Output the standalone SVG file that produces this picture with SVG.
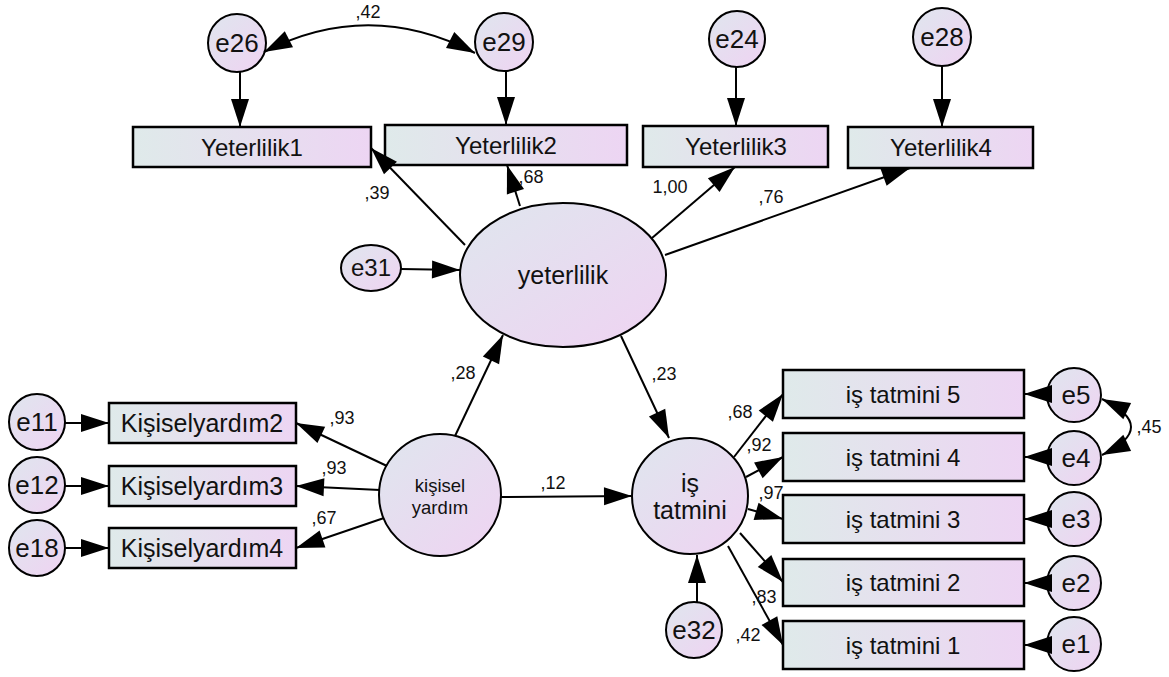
<svg xmlns="http://www.w3.org/2000/svg" width="1169" height="677" viewBox="0 0 1169 677">
<defs>
<linearGradient id="gr" x1="0" y1="0" x2="1" y2="0"><stop offset="0" stop-color="#dfeaea"/><stop offset="1" stop-color="#edd5f3"/></linearGradient>
<linearGradient id="gc" x1="0" y1="0" x2="1" y2="1"><stop offset="0" stop-color="#dfe6ee"/><stop offset="1" stop-color="#efd3f2"/></linearGradient>
<marker id="ah" markerUnits="userSpaceOnUse" markerWidth="28" markerHeight="18" refX="28" refY="9" orient="auto-start-reverse" overflow="visible"><path d="M0,0 L28,9 L0,18 z" fill="#000"/></marker>
<style>
.box{fill:url(#gr);stroke:#000;stroke-width:2.5}
.lat{fill:url(#gc);stroke:#000;stroke-width:2}
.t{font-family:"Liberation Sans",Arial,sans-serif;fill:#111;text-anchor:middle}
.bt{font-size:24px}
.et{font-size:26px}
.lb{font-family:"Liberation Sans",Arial,sans-serif;font-size:18px;fill:#111;text-anchor:middle}
.c{stroke:#000;stroke-width:2;fill:none;marker-end:url(#ah)}
.cc{stroke:#000;stroke-width:2;fill:none;marker-start:url(#ah);marker-end:url(#ah)}
</style>
</defs>
<rect width="1169" height="677" fill="#fff"/>
<g id="nodes">
<g id="Yeterlilik1"><rect class="box" x="133" y="127" width="238" height="40"/><text class="t bt" x="252" y="156">Yeterlilik1</text></g>
<g id="Yeterlilik2"><rect class="box" x="385" y="125" width="242" height="40"/><text class="t bt" x="506" y="154">Yeterlilik2</text></g>
<g id="Yeterlilik3"><rect class="box" x="643" y="126" width="185" height="41"/><text class="t bt" x="736" y="155">Yeterlilik3</text></g>
<g id="Yeterlilik4"><rect class="box" x="848" y="127" width="185" height="41"/><text class="t bt" x="941" y="156">Yeterlilik4</text></g>
<g id="e26"><circle class="lat" cx="237" cy="43" r="29"/><text class="t et" x="237" y="52">e26</text></g>
<g id="e29"><circle class="lat" cx="504" cy="42" r="29"/><text class="t et" x="504" y="51">e29</text></g>
<g id="e24"><circle class="lat" cx="737" cy="39" r="28"/><text class="t et" x="737" y="48">e24</text></g>
<g id="e28"><circle class="lat" cx="942" cy="37" r="29"/><text class="t et" x="942" y="46">e28</text></g>
<g id="yeterlilik"><ellipse class="lat" cx="563" cy="275" rx="103" ry="72"/><text class="t" style="font-size:25px" x="563" y="284">yeterlilik</text></g>
<g id="e31"><ellipse class="lat" cx="371" cy="268" rx="30" ry="23"/><text class="t" style="font-size:24px" x="371" y="276">e31</text></g>
<g id="kisisel"><circle class="lat" cx="440" cy="495" r="61"/><text class="t" style="font-size:18.5px" x="440" y="492">kişisel</text><text class="t" style="font-size:18.5px" x="440" y="514">yardım</text></g>
<g id="Kisiselyardim2"><rect class="box" x="109" y="403" width="187" height="40"/><text class="t" style="font-size:25px" x="202" y="432">Kişiselyardım2</text></g>
<g id="Kisiselyardim3"><rect class="box" x="109" y="466" width="187" height="40"/><text class="t" style="font-size:25px" x="202" y="495">Kişiselyardım3</text></g>
<g id="Kisiselyardim4"><rect class="box" x="109" y="528" width="187" height="40"/><text class="t" style="font-size:25px" x="202" y="557">Kişiselyardım4</text></g>
<g id="e11"><circle class="lat" cx="37" cy="422" r="28"/><text class="t et" x="37" y="431">e11</text></g>
<g id="e12"><circle class="lat" cx="37" cy="485" r="28"/><text class="t et" x="37" y="494">e12</text></g>
<g id="e18"><circle class="lat" cx="37" cy="548" r="28"/><text class="t et" x="37" y="557">e18</text></g>
<g id="istatmini"><circle class="lat" cx="690" cy="496" r="58"/><text class="t" style="font-size:25px" x="690" y="492">iş</text><text class="t" style="font-size:25px" x="690" y="519">tatmini</text></g>
<g id="e32"><circle class="lat" cx="694" cy="630" r="28"/><text class="t et" x="694" y="639">e32</text></g>
<g id="it5"><rect class="box" x="783" y="370" width="241" height="48"/><text class="t bt" x="903" y="403">iş tatmini 5</text></g>
<g id="it4"><rect class="box" x="783" y="433" width="241" height="48"/><text class="t bt" x="903" y="466">iş tatmini 4</text></g>
<g id="it3"><rect class="box" x="783" y="495" width="241" height="48"/><text class="t bt" x="903" y="528">iş tatmini 3</text></g>
<g id="it2"><rect class="box" x="783" y="559" width="241" height="47"/><text class="t bt" x="903" y="591">iş tatmini 2</text></g>
<g id="it1"><rect class="box" x="783" y="621" width="241" height="48"/><text class="t bt" x="903" y="654">iş tatmini 1</text></g>
<g id="e5"><circle class="lat" cx="1074" cy="395" r="27"/><text class="t et" x="1076" y="404">e5</text></g>
<g id="e4"><circle class="lat" cx="1074" cy="458" r="27"/><text class="t et" x="1076" y="467">e4</text></g>
<g id="e3"><circle class="lat" cx="1074" cy="519" r="27"/><text class="t et" x="1076" y="528">e3</text></g>
<g id="e2"><circle class="lat" cx="1074" cy="583" r="27"/><text class="t et" x="1076" y="592">e2</text></g>
<g id="e1"><circle class="lat" cx="1074" cy="644" r="27"/><text class="t et" x="1076" y="653">e1</text></g>
</g>
<g id="connectors">
<path class="cc" d="M264,52 Q369,-2 475,53"/>
<line class="c" x1="240" y1="72" x2="240" y2="127"/>
<line class="c" x1="506" y1="71" x2="506" y2="125"/>
<line class="c" x1="736" y1="67" x2="736" y2="126"/>
<line class="c" x1="942" y1="66" x2="942" y2="127"/>
<line class="c" x1="465" y1="245" x2="371" y2="148"/>
<line class="c" x1="520" y1="206" x2="507" y2="165"/>
<line class="c" x1="652" y1="238" x2="735" y2="167"/>
<line class="c" x1="665" y1="255" x2="910" y2="168"/>
<line class="c" x1="401" y1="269" x2="460" y2="270"/>
<line class="c" x1="455" y1="436" x2="503" y2="335"/>
<line class="c" x1="501" y1="497" x2="632" y2="496"/>
<line class="c" x1="621" y1="336" x2="669" y2="438"/>
<line class="c" x1="387" y1="466" x2="296" y2="423"/>
<line class="c" x1="380" y1="490" x2="296" y2="486"/>
<line class="c" x1="384" y1="518" x2="296" y2="548"/>
<line class="c" x1="65" y1="423" x2="109" y2="423"/>
<line class="c" x1="65" y1="486" x2="109" y2="486"/>
<line class="c" x1="65" y1="548" x2="109" y2="548"/>
<line class="c" x1="734" y1="457" x2="783" y2="394"/>
<line class="c" x1="746" y1="477" x2="783" y2="457"/>
<line class="c" x1="748" y1="509" x2="783" y2="519"/>
<line class="c" x1="740" y1="533" x2="783" y2="582"/>
<line class="c" x1="728" y1="546" x2="783" y2="645"/>
<line class="c" x1="697" y1="602" x2="697" y2="555"/>
<line class="c" x1="1050" y1="394" x2="1024" y2="394"/>
<line class="c" x1="1050" y1="457" x2="1024" y2="457"/>
<line class="c" x1="1050" y1="519" x2="1024" y2="519"/>
<line class="c" x1="1050" y1="583" x2="1024" y2="583"/>
<line class="c" x1="1050" y1="645" x2="1024" y2="645"/>
<path class="cc" d="M1102,399 Q1160,427 1102,455"/>
</g>
<g id="labels">
<text class="lb" x="368" y="18">,42</text>
<text class="lb" x="377" y="199">,39</text>
<text class="lb" x="531" y="183">,68</text>
<text class="lb" x="670" y="193">1,00</text>
<text class="lb" x="771" y="203">,76</text>
<text class="lb" x="463" y="379">,28</text>
<text class="lb" x="664" y="380">,23</text>
<text class="lb" x="342" y="424">,93</text>
<text class="lb" x="334" y="474">,93</text>
<text class="lb" x="324" y="524">,67</text>
<text class="lb" x="553" y="489">,12</text>
<text class="lb" x="740" y="418">,68</text>
<text class="lb" x="759" y="451">,92</text>
<text class="lb" x="771" y="499">,97</text>
<text class="lb" x="764" y="603">,83</text>
<text class="lb" x="748" y="641">,42</text>
<text class="lb" x="1149" y="433">,45</text>
</g>
</svg>
